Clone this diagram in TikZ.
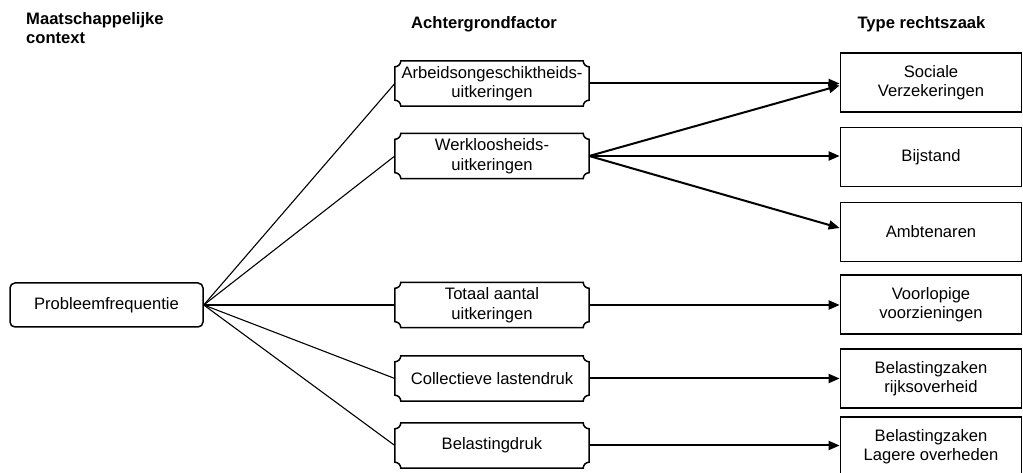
\documentclass[tikz,border=0pt]{standalone}
\usepackage{fontspec}
\setmainfont{Liberation Sans}
\usetikzlibrary{calc,arrows.meta}
\tikzset{
  every node/.style={font=\fontsize{16.6}{19.5}\selectfont, align=center, inner sep=0pt},
  leftbox/.style={draw, line width=1.5pt, rounded corners=5pt, minimum width=193pt, minimum height=44pt},
  midbox/.style={minimum width=194pt, minimum height=45pt},
  rightbox/.style={draw, line width=1.7pt, minimum width=181pt, minimum height=59pt},
  boxline/.style={line width=1.5pt},
  thinline/.style={line width=1.1pt},
  arrowline/.style={line width=2pt, -{Triangle[length=11pt,width=9pt]}},
  head/.style={font=\fontsize{16.6}{19.5}\selectfont\bfseries}
}
\newcommand\concavebox[1]{%
  \draw[boxline] ($(#1.north west)+(6pt,0)$) -- ($(#1.north east)+(-6pt,0)$)
    arc[start angle=180,end angle=270,radius=6pt]
    -- ($(#1.south east)+(0,6pt)$)
    arc[start angle=90,end angle=180,radius=6pt]
    -- ($(#1.south west)+(6pt,0)$)
    arc[start angle=0,end angle=90,radius=6pt]
    -- ($(#1.north west)+(0,-6pt)$)
    arc[start angle=270,end angle=360,radius=6pt] -- cycle;}
\begin{document}
\begin{tikzpicture}[x=1pt,y=1pt]
\useasboundingbox (0,0) rectangle (1023,473);
% headers
\node[head, anchor=base west, align=left] (h1) at (26,429) {Maatschappelijke\\context};
\node[head, anchor=base] (h2) at (484,444) {Achtergrondfactor};
\node[head, anchor=base] (h3) at (921.5,444) {Type rechtszaak};
% left
\node[leftbox] (prob) at (106.5,168) {Probleemfrequentie};
% middle
\node[midbox] (arb) at (492,389.5) {Arbeidsongeschiktheids-\\uitkeringen};
\node[midbox] (werk) at (492,317) {Werkloosheids-\\uitkeringen};
\node[midbox] (tot) at (492,168) {Totaal aantal\\uitkeringen};
\node[midbox] (coll) at (492,94.5) {Collectieve lastendruk};
\node[midbox] (bel) at (492,27.5) {Belastingdruk};
\concavebox{arb}\concavebox{werk}\concavebox{tot}\concavebox{coll}\concavebox{bel}
% right
\node[rightbox] (soc) at (931,390.5) {Sociale\\Verzekeringen};
\node[rightbox] (bij) at (931,316) {Bijstand};
\node[rightbox] (amb) at (931,241) {Ambtenaren};
\node[rightbox] (voor) at (931,168.5) {Voorlopige\\voorzieningen};
\node[rightbox] (rijks) at (931,94.5) {Belastingzaken\\rijksoverheid};
\node[rightbox] (lager) at (931,26.5) {Belastingzaken\\Lagere overheden};
% left connectors
\foreach \m in {arb,werk,tot,coll,bel}
  \draw[thinline] (prob.east) -- (\m.west);
% arrows
\draw[arrowline] (arb.east) -- (arb.east -| soc.west);
\draw[arrowline] (werk.east) -- ([yshift=-3pt]soc.west);
\draw[arrowline] (werk.east) -- (werk.east -| bij.west);
\draw[arrowline] (werk.east) -- ([yshift=4pt]amb.west);
\draw[arrowline] (tot.east) -- (tot.east -| voor.west);
\draw[arrowline] (coll.east) -- (coll.east -| rijks.west);
\draw[arrowline] (bel.east) -- (bel.east -| lager.west);
\end{tikzpicture}
\end{document}
